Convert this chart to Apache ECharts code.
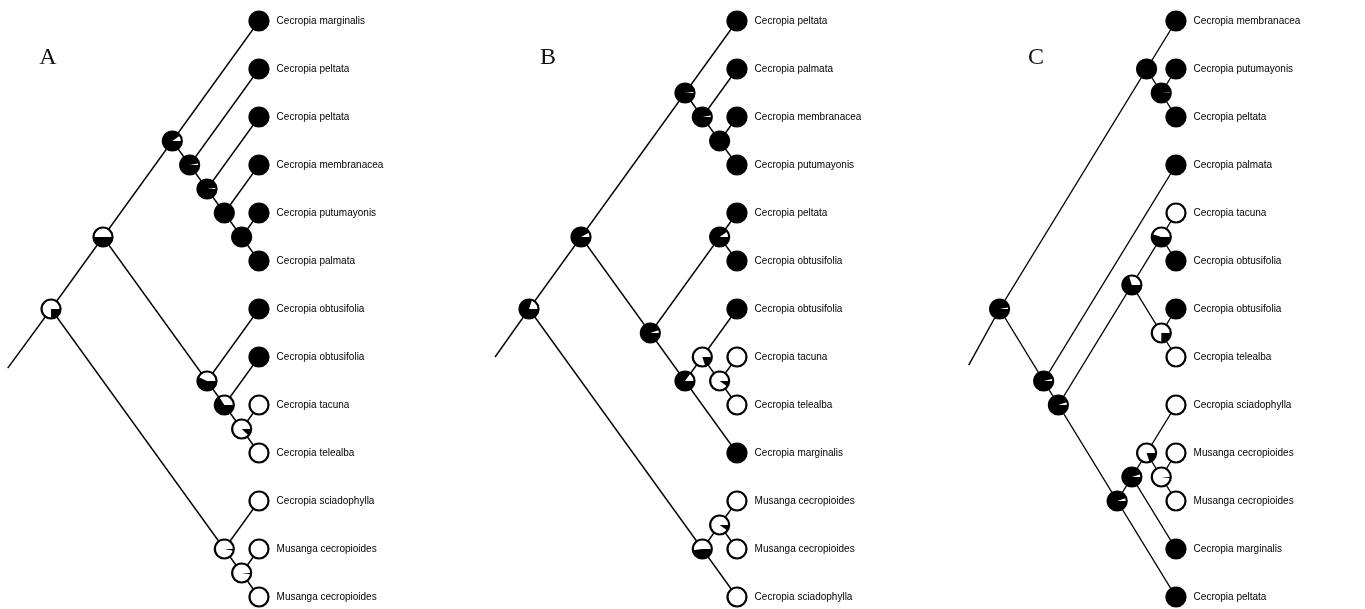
<!DOCTYPE html>
<html>
<head>
<meta charset="utf-8">
<script src="https://cdn.jsdelivr.net/npm/echarts@6/dist/echarts.min.js"></script>
<style>
html,body{margin:0;padding:0;background:#fff;}
#chart{width:1365px;height:609px;}
</style>
</head>
<body>
<div id="chart"></div>
<script>
// ---------- Panel A ----------
const tipsA = ['Cecropia marginalis','Cecropia peltata','Cecropia peltata','Cecropia membranacea','Cecropia putumayonis','Cecropia palmata','Cecropia obtusifolia','Cecropia obtusifolia','Cecropia tacuna','Cecropia telealba','Cecropia sciadophylla','Musanga cecropioides','Musanga cecropioides'];
const tipStateA = [1,1,1,1,1,1,1,1,0,0,0,0,0];
const treeA = [[[1,[2,[3,[4,[5,6]]]]],[7,[8,[9,10]]]],[11,[12,13]]];
const pieA = [0.25,0.5,0.9,0.97,0.98,1,1,0.57,0.66,0.12,0.03,0.02];
const stemA = [-2.5,1.23];

// ---------- Panel B ----------
const tipsB = ['Cecropia peltata','Cecropia palmata','Cecropia membranacea','Cecropia putumayonis','Cecropia peltata','Cecropia obtusifolia','Cecropia obtusifolia','Cecropia tacuna','Cecropia telealba','Cecropia marginalis','Musanga cecropioides','Musanga cecropioides','Cecropia sciadophylla'];
const tipStateB = [1,1,1,1,1,1,1,0,0,1,0,0,0];
const treeB = [[[1,[2,[3,4]]],[[5,6],[[7,[8,9]],10]]],[[11,12],13]];
const pieB = [0.8,0.92,0.98,0.97,1,0.95,0.9,0.85,0.2,0.1,0.48,0.1];
const stemB = [-1.96,1.0];

// ---------- Panel C ----------
const tipsC = ['Cecropia membranacea','Cecropia putumayonis','Cecropia peltata','Cecropia palmata','Cecropia tacuna','Cecropia obtusifolia','Cecropia obtusifolia','Cecropia telealba','Cecropia sciadophylla','Musanga cecropioides','Musanga cecropioides','Cecropia marginalis','Cecropia peltata'];
const tipStateC = [1,1,1,1,0,1,1,0,0,0,0,1,1];
const treeC = [[1,[2,3]],[4,[[[5,6],[7,8]],[[[9,[10,11]],12],13]]]];
const pieC = [0.97,1,0.99,0.96,0.95,0.7,0.55,0.25,0.95,0.95,0.2,0.02];
const stemC = [-2.1,1.17];

const panelLetters = ['A','B','C'];

// slanted-cladogram layout: x = -(tips below - 1), y = middle of extreme tips (row index)
function layout(tree, pies){
  const nodes=[], edges=[]; let k=0;
  function walk(t){
    if(typeof t==='number') return {x:0,y:t-1,min:t-1,max:t-1,n:1};
    const me={pie:pies[k++]}; nodes.push(me);
    const kids=t.map(walk);
    me.min=Math.min(...kids.map(c=>c.min));
    me.max=Math.max(...kids.map(c=>c.max));
    me.n=kids.reduce((s,c)=>s+c.n,0);
    me.x=-(me.n-1); me.y=(me.min+me.max)/2;
    kids.forEach(c=>edges.push([me.x,me.y,c.x,c.y]));
    return me;
  }
  const root=walk(tree);
  return {nodes,edges,root};
}

const panels=[
  {tips:tipsA,state:tipStateA,tree:treeA,pie:pieA,stem:stemA,tipX:259,step:17.33},
  {tips:tipsB,state:tipStateB,tree:treeB,pie:pieB,stem:stemB,tipX:737,step:17.33},
  {tips:tipsC,state:tipStateC,tree:treeC,pie:pieC,stem:stemC,tipX:1176,step:14.7}
];
const XMIN=-14, ROWS=12, TOP=21, ROWH=48;

const grids=[],xAxes=[],yAxes=[],series=[];
panels.forEach((p,i)=>{
  grids.push({left:p.tipX+XMIN*p.step,width:-XMIN*p.step,top:TOP,height:ROWS*ROWH});
  xAxes.push({gridIndex:i,type:'value',min:XMIN,max:0,show:false});
  yAxes.push({gridIndex:i,type:'value',min:0,max:ROWS,inverse:true,show:false});
  const L=layout(p.tree,p.pie);
  const edges=L.edges.slice();
  edges.push([L.root.x,L.root.y,L.root.x+p.stem[0],L.root.y+p.stem[1]]);
  series.push({
    type:'custom',xAxisIndex:i,yAxisIndex:i,silent:true,clip:false,z:1,
    encode:{x:[0,2],y:[1,3]},
    data:edges,
    renderItem:function(params,api){
      const a=api.coord([api.value(0),api.value(1)]);
      const b=api.coord([api.value(2),api.value(3)]);
      return {type:'line',shape:{x1:a[0],y1:a[1],x2:b[0],y2:b[1]},style:{stroke:'#000',lineWidth:1.4}};
    }
  });
  series.push({
    type:'custom',xAxisIndex:i,yAxisIndex:i,silent:true,clip:false,z:3,
    encode:{x:0,y:1},
    data:L.nodes.map(n=>[n.x,n.y,n.pie]),
    renderItem:function(params,api){
      const c=api.coord([api.value(0),api.value(1)]);
      const f=api.value(2);
      const r=9.5;
      return {type:'group',children:[
        {type:'circle',shape:{cx:c[0],cy:c[1],r:r},style:{fill:'#fff',stroke:null}},
        {type:'sector',shape:{cx:c[0],cy:c[1],r0:0,r:r,startAngle:0,endAngle:f*Math.PI*2,clockwise:true},style:{fill:'#000'}},
        {type:'circle',shape:{cx:c[0],cy:c[1],r:r},style:{fill:'none',stroke:'#000',lineWidth:2.2}}
      ]};
    }
  });
  series.push({
    type:'scatter',xAxisIndex:i,yAxisIndex:i,silent:true,z:3,
    symbolSize:19,
    itemStyle:{opacity:1},
    data:p.tips.map((name,j)=>({name:name,value:[0,j],itemStyle:{color:p.state[j]?'#000':'#fff',borderColor:'#000',borderWidth:2.2,opacity:1}})),
    label:{show:true,position:'right',distance:7,formatter:'{b}',fontSize:10,fontFamily:'Liberation Sans, Arial, sans-serif',color:'#000'}
  });
});

const letterX=[48,548,1036];
const chart=echarts.init(document.getElementById('chart'),null,{renderer:'canvas'});
chart.setOption({
  animation:false,
  backgroundColor:'#fff',
  grid:grids,xAxis:xAxes,yAxis:yAxes,series:series,
  graphic:panelLetters.map((t,i)=>({type:'text',x:letterX[i],y:58,style:{text:t,font:'24px "Liberation Serif", "Times New Roman", serif',fill:'#111',textAlign:'center',textVerticalAlign:'middle'}}))
});
</script>
</body>
</html>
